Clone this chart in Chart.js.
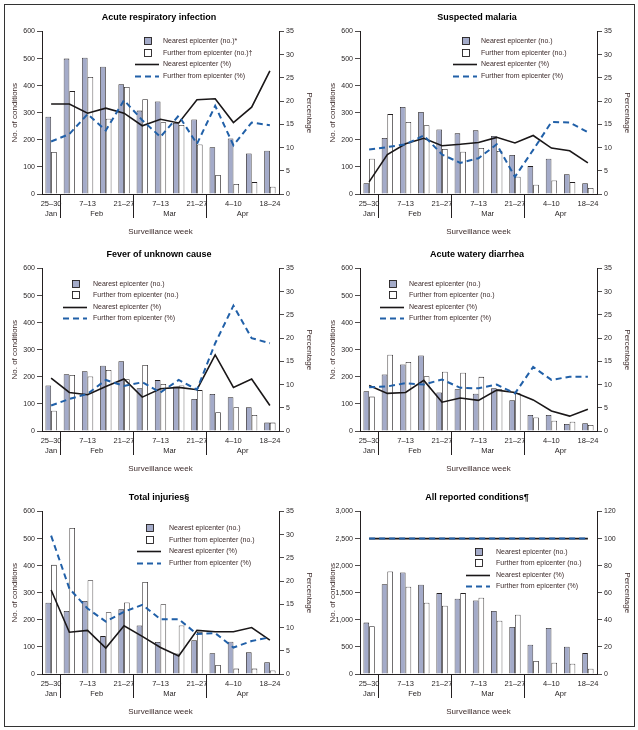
<!DOCTYPE html>
<html>
<head>
<meta charset="utf-8">
<script src="https://cdn.jsdelivr.net/npm/chart.js@4.4.0/dist/chart.umd.min.js"></script>
<style>
  body { margin: 0; background: #fff; }
  #frame { position: absolute; left: 4px; top: 4px; width: 629px; height: 721px; border: 1px solid #333; }
  .panel { position: absolute; width: 318px; height: 240px; }
</style>
</head>
<body>
<div id="frame"></div>
<div class="panel" style="left:0;top:0"><canvas id="c0" width="318" height="240"></canvas></div>
<div class="panel" style="left:318px;top:0"><canvas id="c1" width="318" height="240"></canvas></div>
<div class="panel" style="left:0;top:237px"><canvas id="c2" width="318" height="240"></canvas></div>
<div class="panel" style="left:318px;top:237px"><canvas id="c3" width="318" height="240"></canvas></div>
<div class="panel" style="left:0;top:480px"><canvas id="c4" width="318" height="240"></canvas></div>
<div class="panel" style="left:318px;top:480px"><canvas id="c5" width="318" height="240"></canvas></div>
<script>
// surveillance weeks (every other one is labelled on the axis)
const weekLabels = ['25–30', '31–6', '7–13', '14–20', '21–27', '28–6', '7–13', '14–20', '21–27', '28–3', '4–10', '11–17', '18–24'];
const monthNames = ['Jan', 'Feb', 'Mar', 'Apr'];
const monthFirstWeek = [0, 1, 5, 9];
const monthLastWeek = [0, 4, 8, 12];

// Acute respiratory infection
const ariNearNo = [285, 500, 503, 470, 405, 308, 342, 262, 275, 173, 205, 150, 160];
const ariFarNo = [155, 380, 432, 278, 395, 350, 265, 255, 183, 70, 37, 44, 27];
const ariNearPct = [19.4, 19.4, 17.4, 18.5, 17.4, 14.7, 16.1, 15.3, 20.3, 20.5, 15.4, 18.7, 26.5];
const ariFarPct = [11.3, 12.9, 17.2, 13.7, 20.2, 15.9, 12.3, 16.9, 10.8, 19.0, 10.5, 15.4, 14.8];

// Suspected malaria
const malNearNo = [40, 207, 321, 303, 238, 224, 235, 214, 144, 103, 130, 73, 40];
const malFarNo = [130, 295, 266, 254, 166, 156, 170, 159, 64, 34, 50, 44, 22];
const malNearPct = [2.6, 8.5, 10.8, 12.0, 10.4, 10.7, 11.1, 12.2, 11.0, 12.6, 9.9, 9.3, 6.7];
const malFarPct = [9.6, 10.1, 10.7, 12.6, 8.5, 6.7, 7.7, 10.7, 3.7, 9.5, 15.5, 15.4, 13.3];

// Fever of unknown cause
const fevNearNo = [168, 210, 221, 241, 258, 158, 188, 164, 118, 137, 125, 88, 31];
const fevFarNo = [75, 207, 201, 225, 191, 244, 174, 168, 151, 69, 88, 59, 31];
const fevNearPct = [11.4, 8.3, 7.8, 9.6, 11.2, 7.3, 9.1, 9.4, 8.9, 16.4, 9.4, 11.2, 5.5];
const fevFarPct = [5.5, 6.9, 8.0, 11.0, 9.7, 10.5, 8.3, 11.0, 8.9, 18.9, 27.0, 20.0, 18.9];

// Acute watery diarrhea
const awdNearNo = [147, 209, 246, 279, 142, 154, 138, 158, 114, 59, 59, 26, 29];
const awdFarNo = [127, 282, 255, 202, 219, 215, 200, 154, 139, 50, 38, 34, 22];
const awdNearPct = [9.8, 8.1, 8.3, 10.9, 6.2, 7.1, 6.6, 8.8, 8.3, 6.7, 4.3, 3.2, 4.7];
const awdFarPct = [9.4, 9.6, 10.3, 10.0, 11.1, 9.3, 9.2, 10.0, 8.1, 13.8, 11.0, 11.7, 11.7];

// Total injuries
const injNearNo = [263, 233, 270, 140, 239, 179, 118, 76, 125, 77, 119, 80, 43];
const injFarNo = [403, 539, 346, 228, 264, 340, 258, 179, 155, 33, 20, 20, 13];
const injNearPct = [18.1, 9.0, 9.4, 5.6, 10.4, 8.1, 5.7, 3.9, 9.4, 9.1, 9.1, 10.0, 7.3];
const injFarPct = [29.8, 18.4, 14.1, 11.3, 13.4, 14.9, 11.8, 11.8, 8.6, 8.8, 5.7, 7.1, 7.9];

// All reported conditions
const allNearNo = [949, 1659, 1873, 1647, 1494, 1390, 1359, 1163, 869, 539, 851, 502, 386];
const allFarNo = [881, 1892, 1610, 1316, 1261, 1494, 1408, 985, 1096, 239, 208, 190, 98];
const allNearPct = [100, 100, 100, 100, 100, 100, 100, 100, 100, 100, 100, 100, 100];
const allFarPct = [100, 100, 100, 100, 100, 100, 100, 100, 100, 100, 100, 100, 100];

const FONT = "'Liberation Sans', Arial, sans-serif";
const textColor = '#231f20';
const legendColor = '#3d2b2b';
const axisColor = '#231f20';
const nearFill = '#a4abc9';
const blue = '#2160a8';

// month names under the week labels, with separators between months
const monthAxis = {
  id: 'monthAxis',
  afterDraw(chart) {
    const { ctx, chartArea, scales: { x } } = chart;
    ctx.save();
    ctx.font = '7.5px ' + FONT;
    ctx.fillStyle = textColor;
    ctx.strokeStyle = axisColor;
    ctx.lineWidth = 1;
    ctx.textAlign = 'center';
    ctx.textBaseline = 'middle';
    monthNames.forEach((m, i) => {
      const cx = x.getPixelForValue((monthFirstWeek[i] + monthLastWeek[i]) / 2);
      ctx.fillText(m, cx, chartArea.bottom + 20);
      if (i > 0) {
        const sx = Math.round(x.getPixelForValue(monthFirstWeek[i] - 0.5)) + 0.5;
        ctx.beginPath();
        ctx.moveTo(sx, chartArea.bottom);
        ctx.lineTo(sx, chartArea.bottom + 24);
        ctx.stroke();
      }
    });
    ctx.restore();
  }
};

// legend box drawn inside the plot area
const panelLegend = {
  id: 'panelLegend',
  afterDatasetsDraw(chart, args, opts) {
    const { ctx, chartArea } = chart;
    const x0 = chartArea.left + opts.x;
    const y0 = chartArea.top + opts.y;
    ctx.save();
    ctx.font = '7px ' + FONT;
    ctx.textBaseline = 'middle';
    ctx.textAlign = 'left';
    chart.data.datasets.forEach((ds, i) => {
      const y = Math.round(y0 + i * 11.5) + 0.5;
      if (ds.type === 'bar') {
        ctx.fillStyle = ds.backgroundColor;
        ctx.fillRect(x0 - 3.5, y - 4, 7, 7);
        ctx.strokeStyle = axisColor;
        ctx.lineWidth = 0.9;
        ctx.strokeRect(x0 - 3.5, y - 4, 7, 7);
      } else {
        ctx.strokeStyle = ds.borderColor;
        ctx.lineWidth = ds.borderWidth;
        ctx.setLineDash(ds.borderDash || []);
        ctx.beginPath();
        ctx.moveTo(x0 - 13, y);
        ctx.lineTo(x0 + 11, y);
        ctx.stroke();
        ctx.setLineDash([]);
      }
      ctx.fillStyle = legendColor;
      ctx.fillText(ds.label, x0 + opts.gap, y);
    });
    ctx.restore();
  }
};

const panels = [
  { id: 'c0', title: 'Acute respiratory infection', nearLabel: 'Nearest epicenter (no.)*', farLabel: 'Further from epicenter (no.)†',
    nearNo: ariNearNo, farNo: ariFarNo, nearPct: ariNearPct, farPct: ariFarPct, yMax: 600, yStep: 100, pMax: 35, pStep: 5, legend: { x: 106, y: 9.5, gap: 15 } },
  { id: 'c1', title: 'Suspected malaria', nearLabel: 'Nearest epicenter (no.)', farLabel: 'Further from epicenter (no.)',
    nearNo: malNearNo, farNo: malFarNo, nearPct: malNearPct, farPct: malFarPct, yMax: 600, yStep: 100, pMax: 35, pStep: 5, legend: { x: 106, y: 9.5, gap: 15 } },
  { id: 'c2', title: 'Fever of unknown cause', nearLabel: 'Nearest epicenter (no.)', farLabel: 'Further from epicenter (no.)',
    nearNo: fevNearNo, farNo: fevFarNo, nearPct: fevNearPct, farPct: fevFarPct, yMax: 600, yStep: 100, pMax: 35, pStep: 5, legend: { x: 34, y: 15, gap: 17 } },
  { id: 'c3', title: 'Acute watery diarrhea', nearLabel: 'Nearest epicenter (no.)', farLabel: 'Further from epicenter (no.)',
    nearNo: awdNearNo, farNo: awdFarNo, nearPct: awdNearPct, farPct: awdFarPct, yMax: 600, yStep: 100, pMax: 35, pStep: 5, legend: { x: 33, y: 15, gap: 16 } },
  { id: 'c4', title: 'Total injuries§', nearLabel: 'Nearest epicenter (no.)', farLabel: 'Further from epicenter (no.)',
    nearNo: injNearNo, farNo: injFarNo, nearPct: injNearPct, farPct: injFarPct, yMax: 600, yStep: 100, pMax: 35, pStep: 5, legend: { x: 108, y: 16.5, gap: 19 } },
  { id: 'c5', title: 'All reported conditions¶', nearLabel: 'Nearest epicenter (no.)', farLabel: 'Further from epicenter (no.)',
    nearNo: allNearNo, farNo: allFarNo, nearPct: allNearPct, farPct: allFarPct, yMax: 3000, yStep: 500, pMax: 120, pStep: 20, legend: { x: 119, y: 40, gap: 17 } }
];

function makeChart(p) {
  const tickFont = { family: FONT, size: 7 };
  return new Chart(document.getElementById(p.id), {
    type: 'bar',
    data: {
      labels: weekLabels,
      datasets: [
        { type: 'bar', label: p.nearLabel, data: p.nearNo, yAxisID: 'y', order: 2,
          backgroundColor: nearFill, borderColor: axisColor, borderWidth: 0.8,
          categoryPercentage: 0.62, barPercentage: 1 },
        { type: 'bar', label: p.farLabel, data: p.farNo, yAxisID: 'y', order: 3,
          backgroundColor: '#ffffff', borderColor: axisColor, borderWidth: 0.8,
          categoryPercentage: 0.62, barPercentage: 1 },
        { type: 'line', label: 'Nearest epicenter (%)', data: p.nearPct, yAxisID: 'y1', order: 1,
          borderColor: '#1a1718', borderWidth: 1.6, pointRadius: 0, tension: 0, fill: false },
        { type: 'line', label: 'Further from epicenter (%)', data: p.farPct, yAxisID: 'y1', order: 0,
          borderColor: blue, borderWidth: 2, borderDash: [6, 4], pointRadius: 0, tension: 0, fill: false }
      ]
    },
    options: {
      responsive: false,
      animation: false,
      layout: { padding: 0 },
      plugins: {
        legend: { display: false },
        tooltip: { enabled: false },
        title: {
          display: true, text: p.title, color: '#000',
          font: { family: FONT, size: 9, weight: 'bold' },
          padding: { top: 12.6, bottom: 8.1 }
        },
        panelLegend: p.legend
      },
      scales: {
        x: {
          grid: { display: false, drawTicks: false },
          border: { display: true, color: axisColor, width: 1 },
          ticks: {
            autoSkip: false, maxRotation: 0, padding: 5, color: textColor, font: { family: FONT, size: 7.5 },
            callback: (value, i) => (i % 2 === 0 ? weekLabels[value] : '')
          },
          title: { display: true, text: 'Surveillance week', color: legendColor,
            font: { family: FONT, size: 8 }, padding: { top: 0, bottom: 3 } },
          afterFit: (s) => { s.height = 46; }
        },
        y: {
          position: 'left', min: 0, max: p.yMax,
          grid: { drawOnChartArea: false, color: axisColor, tickLength: 5, lineWidth: 0.8 },
          border: { display: true, color: axisColor, width: 1 },
          ticks: { stepSize: p.yStep, padding: 2, color: textColor, font: tickFont,
            callback: (v) => v.toLocaleString('en-US') },
          title: { display: true, text: 'No. of conditions', color: legendColor,
            font: { family: FONT, size: 8 }, padding: { top: 10, bottom: 0 } },
          afterFit: (s) => { s.width = 42; }
        },
        y1: {
          position: 'right', min: 0, max: p.pMax,
          grid: { drawOnChartArea: false, color: axisColor, tickLength: 5, lineWidth: 0.8 },
          border: { display: true, color: axisColor, width: 1 },
          ticks: { stepSize: p.pStep, padding: 2, color: textColor, font: tickFont },
          title: { display: true, text: 'Percentage', color: legendColor,
            font: { family: FONT, size: 8 }, padding: { top: 4, bottom: 0 } },
          afterFit: (s) => { s.width = 39; }
        }
      }
    },
    plugins: [monthAxis, panelLegend]
  });
}

panels.forEach(makeChart);
</script>
</body>
</html>
